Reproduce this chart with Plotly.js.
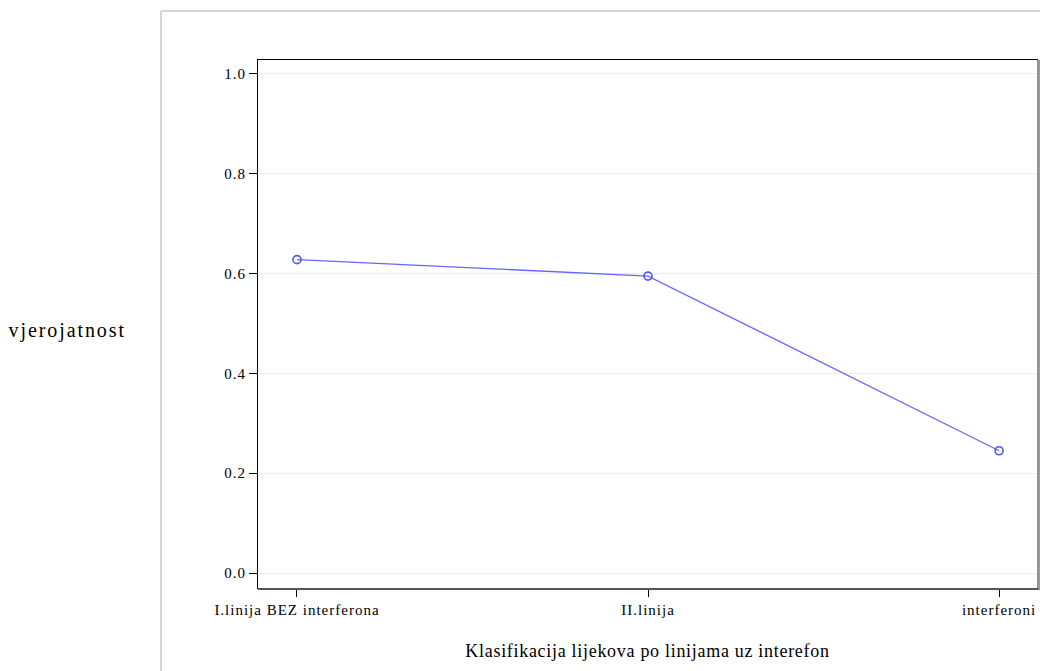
<!DOCTYPE html>
<html>
<head>
<meta charset="utf-8">
<script src="https://cdn.plot.ly/plotly-3.0.1.min.js"></script>
<style>
html,body{margin:0;padding:0;background:#fff;}
#chart{width:1040px;height:671px;}
#chart .xtick text, #chart .ytick text{letter-spacing:1px;}
#chart .g-xtitle text{letter-spacing:0.7px;}
#chart .annotation-text{letter-spacing:1.9px;}
</style>
</head>
<body>
<div id="chart"></div>
<script>
var categories = ["I.linija BEZ interferona", "II.linija", "interferoni"];
var probabilities = [0.628, 0.595, 0.245];
var yTickValues = [0.0, 0.2, 0.4, 0.6, 0.8, 1.0];
var yTickLabels = ["0.0", "0.2", "0.4", "0.6", "0.8", "1.0"];
var xTitle = "Klasifikacija lijekova po linijama uz interefon";
var yTitle = "vjerojatnost";

var FONT = "Liberation Serif, Times New Roman, serif";

var trace = {
  x: categories.map(function(c, i){ return i; }),
  y: probabilities,
  type: "scatter",
  mode: "lines+markers",
  line: {color: "#6666ff", width: 1.3},
  marker: {symbol: "circle-open", size: 8, color: "#5555ee", line: {width: 1.6, color: "#5050ee"}},
  hoverinfo: "skip",
  showlegend: false
};

var layout = {
  width: 1040,
  height: 671,
  margin: {l: 258, r: 3, t: 60, b: 83, pad: 0},
  paper_bgcolor: "#ffffff",
  plot_bgcolor: "#ffffff",
  font: {family: FONT, color: "#000", size: 15},
  xaxis: {
    range: [-0.111, 2.108],
    tickvals: [0, 1, 2],
    ticktext: categories,
    ticks: "outside",
    ticklen: 8,
    tickwidth: 1,
    tickcolor: "#000",
    showgrid: false,
    zeroline: false,
    showline: true,
    linecolor: "#000",
    linewidth: 1,
    mirror: true,
    tickfont: {family: FONT, size: 15, color: "#000"},
    title: {text: xTitle, font: {family: FONT, size: 18, color: "#000"}, standoff: 27}
  },
  yaxis: {
    range: [-0.030, 1.028],
    tickvals: yTickValues,
    ticktext: yTickLabels,
    ticks: "outside",
    ticklen: 8,
    tickwidth: 1,
    tickcolor: "#000",
    showgrid: true,
    gridcolor: "#ececec",
    gridwidth: 1,
    zeroline: false,
    showline: true,
    linecolor: "#000",
    linewidth: 1,
    mirror: true,
    tickfont: {family: FONT, size: 15, color: "#000"}
  },
  annotations: [{
    text: yTitle,
    xref: "paper", yref: "paper",
    x: -0.308, y: 0.4886,
    xanchor: "left", yanchor: "middle",
    showarrow: false,
    font: {family: FONT, size: 20, color: "#000"}
  }],
  shapes: [
    {type: "line", xref: "paper", yref: "paper", x0: -0.1245, x1: 1.01, y0: 1.0928, y1: 1.0928, line: {color: "#d6d6d6", width: 2}},
    {type: "line", xref: "paper", yref: "paper", x0: -0.1245, x1: -0.1245, y0: -0.2, y1: 1.0928, line: {color: "#d6d6d6", width: 2}},
    {type: "line", xref: "paper", yref: "paper", x0: 1.002, x1: 1.002, y0: -0.004, y1: 1.0, line: {color: "#999999", width: 3}},
    {type: "line", xref: "paper", yref: "paper", x0: 0, x1: 1.002, y0: -0.002, y1: -0.002, line: {color: "#555555", width: 2}}
  ]
};

Plotly.newPlot("chart", [trace], layout, {displayModeBar: false, staticPlot: true});
</script>
</body>
</html>
